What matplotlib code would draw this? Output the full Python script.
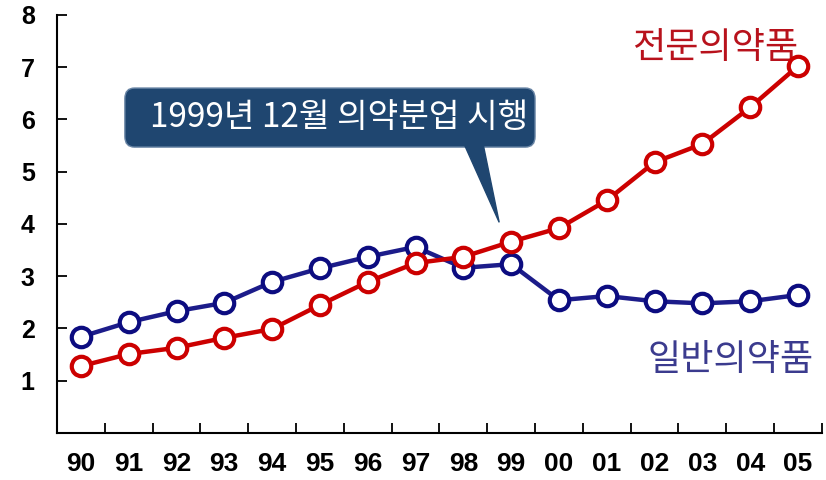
import matplotlib
matplotlib.use("Agg")
from matplotlib import pyplot as plt
from matplotlib.patches import Polygon, FancyBboxPatch

years = ["90", "91", "92", "93", "94", "95", "96", "97",
         "98", "99", "00", "01", "02", "03", "04", "05"]
etc_drugs = [1.28, 1.51, 1.63, 1.82, 1.99, 2.45, 2.89, 3.25,
             3.37, 3.66, 3.92, 4.45, 5.18, 5.53, 6.23, 7.02]
otc_drugs = [1.84, 2.12, 2.33, 2.49, 2.89, 3.15, 3.37, 3.56,
             3.16, 3.23, 2.54, 2.62, 2.52, 2.48, 2.52, 2.64]
y_ticks = [1, 2, 3, 4, 5, 6, 7, 8]

red = '#cc0000'
navy = '#1c1c8a'
kr = ['Noto Sans CJK KR', 'DejaVu Sans']
num = ['Liberation Sans', 'DejaVu Sans']

fig = plt.figure(figsize=(8.26, 4.8), dpi=100)
ax = fig.add_axes([0.069, 0.098, 0.926, 0.871])

x = list(range(len(years)))
ax.plot(x, otc_drugs, color=navy, lw=3.2, marker='o', ms=14,
        mfc='white', mec='#0c0c80', mew=3, zorder=3)
ax.plot(x, etc_drugs, color=red, lw=3.2, marker='o', ms=14,
        mfc='white', mec=red, mew=3, zorder=4)

ax.set_xlim(-0.5, len(years) - 0.5)
ax.set_ylim(0, 8)

# tick marks on category boundaries, labels at centres
ax.set_xticks([i - 0.5 for i in range(len(years) + 1)])
ax.set_xticklabels([])
ax.set_xticks(x, minor=True)
ax.set_xticklabels(years, minor=True, fontsize=19, fontweight='bold',
                   family=num)
ax.tick_params(axis='x', which='major', direction='in', length=7,
               width=1.3)
ax.tick_params(axis='x', which='minor', length=0, pad=14)

ax.set_yticks(y_ticks)
ax.set_yticklabels([str(v) for v in y_ticks], fontsize=18,
                   fontweight='bold', family=num)
ax.tick_params(axis='y', direction='in', length=7, width=1.3, pad=16)

for s in ['top', 'right']:
    ax.spines[s].set_visible(False)
for s in ['left', 'bottom']:
    ax.spines[s].set_linewidth(1.5)

# series labels
ax.text(13.27, 7.36, "전문의약품", color='#b8121c', fontsize=26,
        family=kr, ha='center', va='center')
ax.text(13.6, 1.4, "일반의약품", color='#3b3b8e', fontsize=26,
        family=kr, ha='center', va='center')

# callout
box_color = '#1f4670'
ax.add_patch(FancyBboxPatch((0.92, 5.47), 8.58, 1.13,
                            boxstyle='round,pad=0,rounding_size=0.2',
                            fc=box_color, ec='#6a86a6', lw=1, zorder=5))
ax.add_patch(Polygon([[8.03, 5.5], [8.42, 5.5], [8.75, 4.03]],
                     closed=True, color=box_color, zorder=5))
ax.text(1.45, 6.03, "1999년 12월 의약분업 시행", color='white',
        fontsize=24, family=kr, ha='left', va='center', zorder=6)

fig.savefig("out.png", dpi=100)
